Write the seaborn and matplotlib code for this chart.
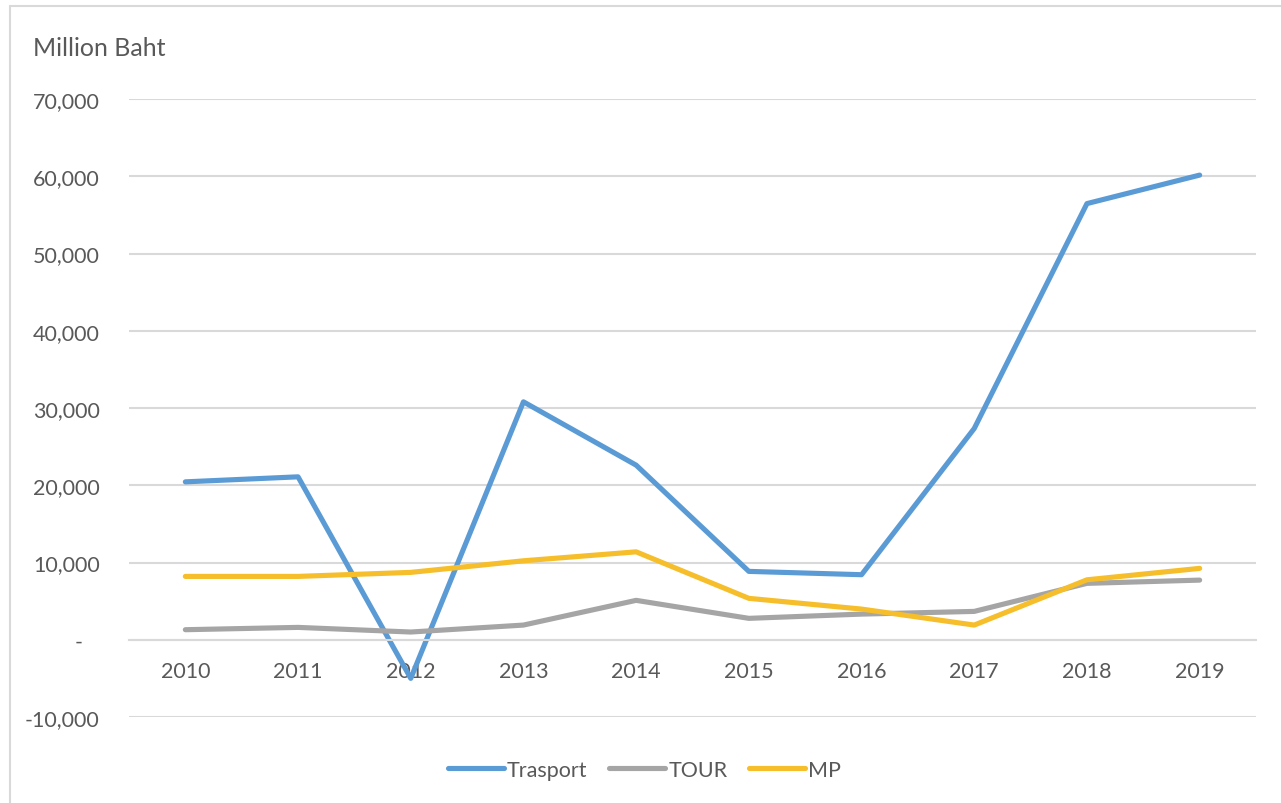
import numpy as np
import pandas as pd
import matplotlib
matplotlib.use("Agg")
import matplotlib.pyplot as plt
import seaborn as sns
from matplotlib.ticker import FuncFormatter, FixedLocator
from matplotlib.lines import Line2D

years = ["2010", "2011", "2012", "2013", "2014", "2015", "2016", "2017", "2018", "2019"]
transport = [20440, 21090, -5000, 30800, 22600, 8850, 8420, 27350, 56460, 60150]
tour = [1300, 1600, 1000, 1900, 5100, 2770, 3320, 3670, 7300, 7720]
mp = [8200, 8200, 8720, 10220, 11380, 5360, 3970, 1900, 7760, 9240]
series_names = ["Trasport", "TOUR", "MP"]
colors = ["#5B9BD5", "#A5A5A5", "#F5BE2A"]

rows = []
for name, vals in zip(series_names, [transport, tour, mp]):
    for i, v in enumerate(vals):
        rows.append({"idx": i, "year": years[i], "value": v, "series": name})
df = pd.DataFrame(rows)

sns.set_theme(style="white")
plt.rcParams["font.family"] = ["Lato", "DejaVu Sans"]
txt = "#595959"
grid = "#D9D9D9"

fig = plt.figure(figsize=(12.81, 8.04), dpi=100)
ax = fig.add_axes([129/1281, 1-718/804, (1256-129)/1281, (718-100)/804])

sns.lineplot(data=df, x="idx", y="value", hue="series", hue_order=series_names,
             palette=colors, linewidth=3.7, ax=ax, legend=False, sort=False,
             estimator=None)
for ln in ax.lines:
    ln.set_solid_capstyle("round")
    ln.set_solid_joinstyle("round")

ax.set_xlim(-0.5, 9.5)
ax.set_ylim(-10000, 70000)
ax.yaxis.set_major_locator(FixedLocator(np.arange(-10000, 70001, 10000)))

def yfmt(v, pos):
    if abs(v) < 1e-6:
        return "-   "
    return f"{int(v):,}"
ax.yaxis.set_major_formatter(FuncFormatter(yfmt))
ax.set_xticks(range(len(years)))
ax.set_xticklabels(years)

ax.grid(axis="y", color=grid, linewidth=1.5)
ax.grid(axis="x", visible=False)
ax.set_axisbelow(True)
for s in ["top", "right", "left"]:
    ax.spines[s].set_visible(False)
ax.spines["bottom"].set_position(("data", 0))
ax.spines["bottom"].set_color(grid)
ax.spines["bottom"].set_linewidth(1.5)
ax.tick_params(axis="y", length=0, pad=21, labelsize=15.5, labelcolor=txt)
ax.tick_params(axis="x", length=0, pad=15, labelsize=15.5, labelcolor=txt)
ax.set_xlabel("")
ax.set_ylabel("")

fig.text(33/1281, 1-48/804, "Million Baht", fontsize=18, color=txt,
         ha="left", va="center")

handles = [Line2D([0], [0], color=c, linewidth=3.7, solid_capstyle="round")
           for c in colors]
fig.legend(handles, series_names, loc="center", bbox_to_anchor=(0.503, 1-771/804),
           ncol=3, frameon=False, fontsize=15.5, labelcolor=txt,
           handlelength=2.6, handletextpad=0.15, columnspacing=1.0)

# chart border (partially cropped)
fig.add_artist(Line2D([10/1281, 10/1281], [0, 1-7/804], color="#D9D9D9",
                      linewidth=1.5, transform=fig.transFigure))
fig.add_artist(Line2D([10/1281, 1], [1-7/804, 1-7/804], color="#D9D9D9",
                      linewidth=1.5, transform=fig.transFigure))

fig.savefig("out.png", dpi=100, facecolor="white")
